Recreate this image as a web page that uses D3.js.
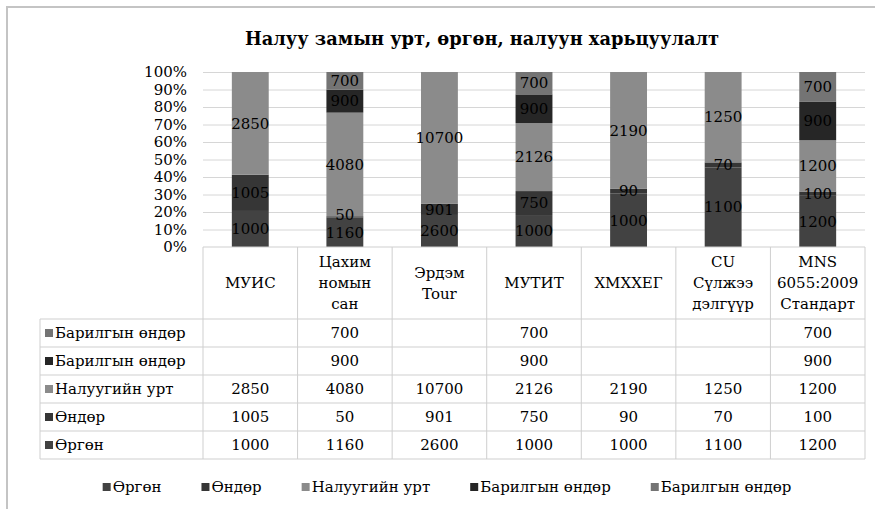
<!DOCTYPE html>
<html>
<head>
<meta charset="utf-8">
<script src="https://cdn.jsdelivr.net/npm/d3@7"></script>
<style>
  body { margin: 0; background: #fff; }
  svg text { font-family: "DejaVu Serif", "Liberation Serif", serif; fill: #000; }
</style>
</head>
<body>
<script>
// width and height
var w = 875;
var h = 509;

// data
var categories = [["МУИС"], ["Цахим", "номын", "сан"], ["Эрдэм", "Tour"], ["МУТИТ"], ["ХМХХЕГ"], ["CU", "Сүлжээ", "дэлгүүр"], ["MNS", "6055:2009", "Стандарт"]];
var seriesNames = ["Өргөн", "Өндөр", "Налуугийн урт", "Барилгын өндөр", "Барилгын өндөр"];
var ergen   = [1000, 1160, 2600, 1000, 1000, 1100, 1200];
var ondor   = [1005, 50, 901, 750, 90, 70, 100];
var naluu   = [2850, 4080, 10700, 2126, 2190, 1250, 1200];
var barilga1 = [null, 900, null, 900, null, null, 900];
var barilga2 = [null, 700, null, 700, null, null, 700];
var yTicks = [0, 0.1, 0.2, 0.3, 0.4, 0.5, 0.6, 0.7, 0.8, 0.9, 1];

var seriesValues = [ergen, ondor, naluu, barilga1, barilga2];
var colors = ["#424242", "#363636", "#8b8b8b", "#262626", "#747474"];

// rows for d3.stack
var rows = categories.map(function(c, i) {
    var r = { idx: i };
    seriesValues.forEach(function(s, k) { r["s" + k] = s[i] || 0; });
    return r;
});
var keys = seriesValues.map(function(s, k) { return "s" + k; });
var stacked = d3.stack().keys(keys).offset(d3.stackOffsetExpand)(rows);

// layout
var plotLeft = 203, plotRight = 865, plotTop = 72, plotBottom = 247;
var tableLeft = 40, headerBottom = 319, rowH = 28;
var fs = 15; // base font size (DejaVu Serif is wider than Times)

var xCol = d3.scaleBand().domain(d3.range(categories.length)).range([plotLeft, plotRight]).padding(0);
var xBar = d3.scaleBand().domain(d3.range(categories.length)).range([plotLeft, plotRight])
    .paddingInner(0.61).paddingOuter(0.305);
var yScale = d3.scaleLinear().domain([0, 1]).range([plotBottom, plotTop]);

var svg = d3.select("body").append("svg").attr("width", w).attr("height", h);

// chart border (right/bottom cut off)
svg.append("rect").attr("x", 7).attr("y", 7).attr("width", 920).attr("height", 600)
    .attr("fill", "none").attr("stroke", "#c4c4c4").attr("stroke-width", 2);

// title, sized to the reference width
var title = svg.append("text").attr("x", 482).attr("y", 45).attr("text-anchor", "middle")
    .style("font-size", "20px").style("font-weight", "bold")
    .text("Налуу замын урт, өргөн, налуун харьцуулалт");
var tw = title.node().getComputedTextLength();
if (tw > 480) title.style("font-size", (20 * 475 / tw).toFixed(1) + "px");

// gridlines
svg.append("g")
    .attr("transform", "translate(" + plotLeft + ",0)")
    .call(d3.axisLeft(yScale).tickValues(yTicks.slice(1)).tickSize(-(plotRight - plotLeft)).tickFormat(""))
    .call(function(g) { g.select(".domain").remove(); })
    .selectAll("line").attr("stroke", "#d6d6d6");

// y axis labels
svg.append("g")
    .attr("transform", "translate(" + plotLeft + ",0)")
    .call(d3.axisLeft(yScale).tickValues(yTicks).tickSize(0).tickPadding(16).tickFormat(d3.format(".0%")))
    .call(function(g) { g.select(".domain").remove(); })
    .selectAll("text").style("font-size", fs + "px").attr("fill", "#000");

// bars
var layers = svg.selectAll("g.layer").data(stacked).enter().append("g").attr("class", "layer")
    .attr("fill", function(d, k) { return colors[k]; });

layers.selectAll("rect").data(function(d) { return d; }).enter().append("rect")
    .attr("x", function(d) { return xBar(d.data.idx); })
    .attr("width", xBar.bandwidth())
    .attr("y", function(d) { return yScale(d[1]); })
    .attr("height", function(d) { return yScale(d[0]) - yScale(d[1]); });

// data labels (pushed up a little when two labels in a bar would collide)
var lastY = categories.map(function() { return Infinity; });
stacked.forEach(function(layer, k) {
    layer.forEach(function(d) {
        var i = d.data.idx;
        var v = seriesValues[k][i];
        if (v == null) return;
        var y = yScale((d[0] + d[1]) / 2);
        if (lastY[i] - y < 18) y = lastY[i] - 18;
        lastY[i] = y;
        svg.append("text")
            .attr("x", xBar(i) + xBar.bandwidth() / 2)
            .attr("y", y)
            .attr("dy", "0.35em")
            .attr("text-anchor", "middle")
            .style("font-size", fs + "px")
            .text(v);
    });
});

// data table
var tbl = svg.append("g").attr("stroke", "#cfcfcf").attr("stroke-width", 1);
var nRows = seriesValues.length;
var tableBottom = headerBottom + nRows * rowH;
tbl.append("line").attr("x1", plotLeft).attr("x2", plotRight).attr("y1", plotBottom).attr("y2", plotBottom);
d3.range(nRows + 1).forEach(function(r) {
    var y = headerBottom + r * rowH;
    tbl.append("line").attr("x1", tableLeft).attr("x2", plotRight).attr("y1", y).attr("y2", y);
});
tbl.append("line").attr("x1", tableLeft).attr("x2", tableLeft).attr("y1", headerBottom).attr("y2", tableBottom);
d3.range(categories.length + 1).forEach(function(i) {
    var x = i < categories.length ? xCol(i) : plotRight;
    tbl.append("line").attr("x1", x).attr("x2", x).attr("y1", plotBottom).attr("y2", tableBottom);
});

// header labels
categories.forEach(function(lines, i) {
    var cx = xCol(i) + xCol.bandwidth() / 2;
    var cy = (plotBottom + headerBottom) / 2;
    var lh = 21;
    var t = svg.append("text").attr("text-anchor", "middle").style("font-size", fs + "px");
    lines.forEach(function(line, j) {
        t.append("tspan").attr("x", cx)
            .attr("y", cy + (j - (lines.length - 1) / 2) * lh)
            .attr("dy", "0.35em")
            .text(line);
    });
});

// rows: top row is last series
d3.range(nRows).forEach(function(r) {
    var k = nRows - 1 - r;
    var cy = headerBottom + r * rowH + rowH / 2;
    svg.append("rect").attr("x", 45).attr("y", cy - 4).attr("width", 8).attr("height", 8).attr("fill", colors[k]);
    svg.append("text").attr("x", 55).attr("y", cy).attr("dy", "0.35em")
        .style("font-size", fs + "px").text(seriesNames[k]);
    seriesValues[k].forEach(function(v, i) {
        if (v == null) return;
        svg.append("text").attr("x", xCol(i) + xCol.bandwidth() / 2).attr("y", cy).attr("dy", "0.35em")
            .attr("text-anchor", "middle").style("font-size", fs + "px").text(v);
    });
});

// legend
var legend = svg.append("g");
var lx = 0;
seriesNames.forEach(function(name, k) {
    var g = legend.append("g").attr("transform", "translate(" + lx + ",0)");
    g.append("rect").attr("x", 0).attr("y", -4).attr("width", 8).attr("height", 8).attr("fill", colors[k]);
    var t = g.append("text").attr("x", 10).attr("dy", "0.35em").style("font-size", fs + "px").text(name);
    lx += 10 + t.node().getComputedTextLength() + 40;
});
lx -= 40;
legend.attr("transform", "translate(" + (447 - lx / 2) + ",487)");
</script>
</body>
</html>
